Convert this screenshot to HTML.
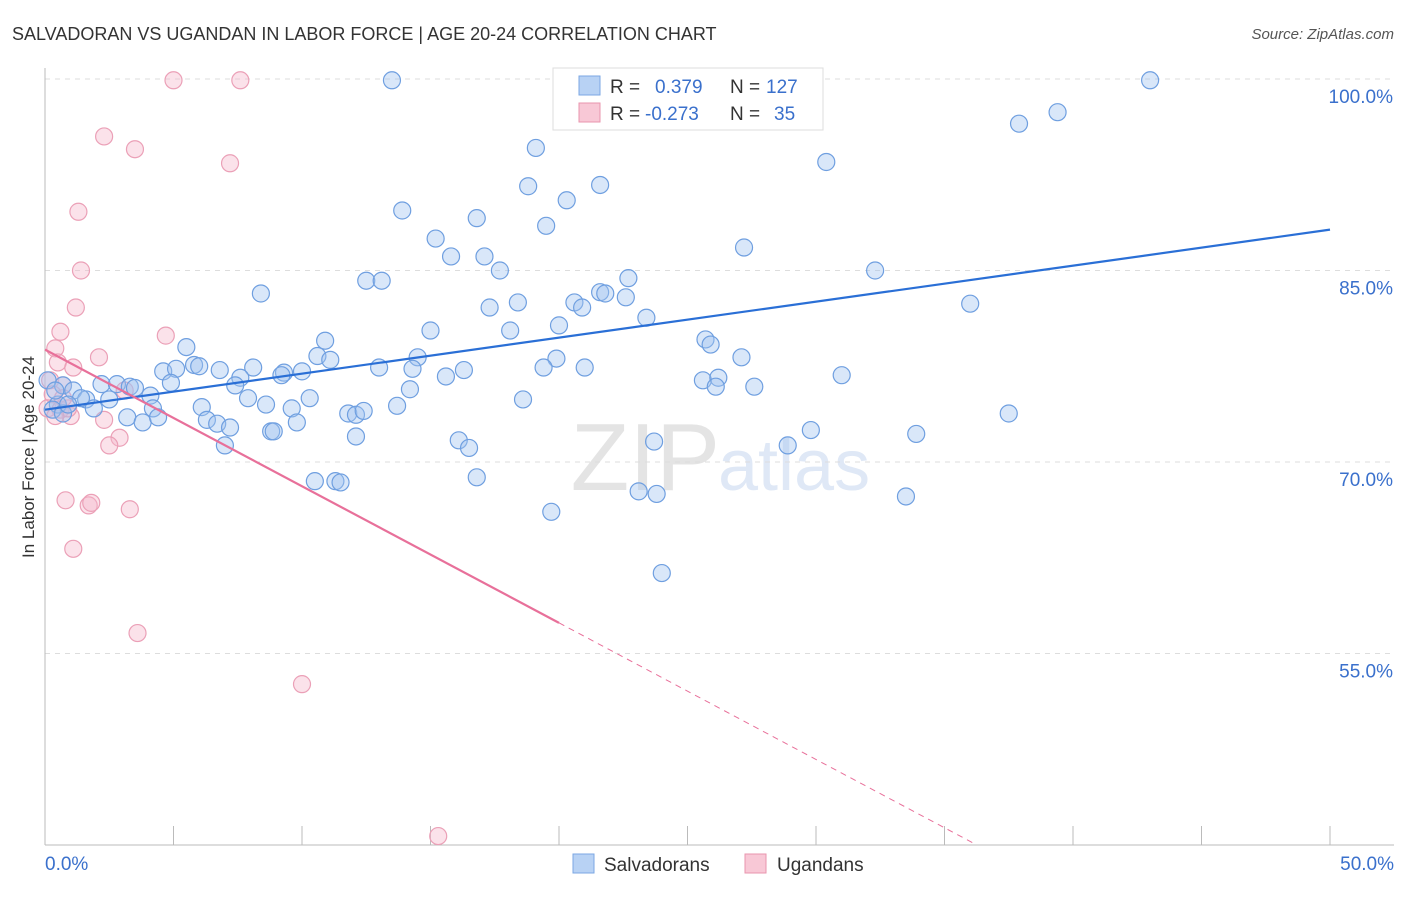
<!DOCTYPE html>
<html><head><meta charset="utf-8"><style>
body{margin:0;background:#fff;font-family:"Liberation Sans",sans-serif;}
svg text{font-family:"Liberation Sans",sans-serif;}
</style></head><body>
<svg id="chart" width="1406" height="892" xmlns="http://www.w3.org/2000/svg">
<text x="12" y="40" font-size="18" fill="#333">SALVADORAN VS UGANDAN IN LABOR FORCE | AGE 20-24 CORRELATION CHART</text>
<text x="1394" y="39" font-size="15" fill="#555" font-style="italic" text-anchor="end">Source: ZipAtlas.com</text>
<text x="720" y="490" font-size="96" fill="#e4e4e4" text-anchor="end" font-family="Liberation Serif">ZIP</text>
<text x="718" y="490" font-size="72" fill="#dfe8f6">atlas</text>
<g id="grid"></g>
<g id="axes"></g>
<g id="pink"></g>
<g id="blue"></g>
<g id="trends"></g>
<text transform="translate(34,457) rotate(-90)" font-size="17" fill="#333" text-anchor="middle">In Labor Force | Age 20-24</text>
<g>
<rect x="553" y="68" width="270" height="62" fill="#fff" stroke="#ddd"/>
<rect x="579" y="76" width="21" height="19" fill="#b8d2f4" stroke="#7ba7e3"/>
<rect x="579" y="103" width="21" height="19" fill="#f8c8d6" stroke="#e995ae"/>
<text x="610" y="93" font-size="19" fill="#333">R = </text><text x="655" y="93" font-size="19" fill="#3a70cc">0.379</text>
<text x="730" y="93" font-size="19" fill="#333">N = </text><text x="766" y="93" font-size="19" fill="#3a70cc">127</text>
<text x="610" y="120" font-size="19" fill="#333">R = </text><text x="645" y="120" font-size="19" fill="#3a70cc">-0.273</text>
<text x="730" y="120" font-size="19" fill="#333">N = </text><text x="774" y="120" font-size="19" fill="#3a70cc">35</text>
</g>
<g>
<rect x="573" y="854" width="21" height="19" fill="#b8d2f4" stroke="#7ba7e3"/>
<text x="604" y="871" font-size="19" fill="#333">Salvadorans</text>
<rect x="745" y="854" width="21" height="19" fill="#f8c8d6" stroke="#e995ae"/>
<text x="777" y="871" font-size="19" fill="#333">Ugandans</text>
</g>
</svg>
<script>
const yTicks=[100,85,70,55];
const yTickLabels=["100.0%","85.0%","70.0%","55.0%"];
const xTicks=[0,5,10,15,20,25,30,35,40,45,50];
const xEndLabels=["0.0%","50.0%"];
const blueX=[13.5,43.0,39.4,37.9,19.1,30.4,18.8,21.6,20.3,13.9,16.8,19.5,15.2,27.2,15.8,17.1,17.7,32.3,22.7,12.5,13.1,8.4,21.6,21.8,20.6,22.6,20.9,18.4,17.3,36.0,23.4,20.0,15.0,18.1,10.9,25.7,25.9,5.5,10.6,11.1,14.5,19.9,27.1,5.8,13.0,14.3,4.6,5.1,6.0,6.8,8.1,9.3,10.0,9.2,21.0,19.4,16.3,15.6,31.0,7.6,4.9,7.4,25.6,26.2,26.1,27.6,14.2,2.2,2.8,3.3,3.5,0.7,1.1,4.1,7.9,8.6,10.3,9.6,11.8,12.1,12.4,13.7,18.6,6.1,2.5,1.6,1.4,0.5,1.9,4.2,6.3,6.7,7.2,3.2,3.8,4.4,9.8,37.5,8.8,8.9,12.1,16.1,16.5,7.0,23.7,28.9,29.8,33.9,16.8,10.5,11.3,11.5,23.1,23.8,33.5,19.7,24.0,0.1,0.3,0.7,0.9,0.4];
const blueY=[99.9,99.9,97.4,96.5,94.6,93.5,91.6,91.7,90.5,89.7,89.1,88.5,87.5,86.8,86.1,86.1,85.0,85.0,84.4,84.2,84.2,83.2,83.3,83.2,82.5,82.9,82.1,82.5,82.1,82.4,81.3,80.7,80.3,80.3,79.5,79.6,79.2,79.0,78.3,78.0,78.2,78.1,78.2,77.6,77.4,77.3,77.1,77.3,77.5,77.2,77.4,77.0,77.1,76.8,77.4,77.4,77.2,76.7,76.8,76.6,76.2,76.0,76.4,76.6,75.9,75.9,75.7,76.1,76.1,75.9,75.8,76.0,75.6,75.2,75.0,74.5,75.0,74.2,73.8,73.7,74.0,74.4,74.9,74.3,74.9,74.9,75.0,74.5,74.2,74.2,73.3,73.0,72.7,73.5,73.1,73.5,73.1,73.8,72.4,72.4,72.0,71.7,71.1,71.3,71.6,71.3,72.5,72.2,68.8,68.5,68.5,68.4,67.7,67.5,67.3,66.1,61.3,76.4,74.1,73.8,74.5,75.6];
const pinkX=[5.0,7.6,2.3,3.5,7.2,1.3,1.4,1.2,0.6,4.7,0.4,2.1,0.5,1.1,0.2,0.7,3.1,0.3,0.1,0.6,1.0,0.9,2.3,2.9,2.5,0.8,1.7,1.8,3.3,1.1,3.6,10.0,15.3,0.4,0.7];
const pinkY=[99.9,99.9,95.5,94.5,93.4,89.6,85.0,82.1,80.2,79.9,78.9,78.2,77.8,77.4,76.4,76.0,75.6,75.3,74.2,74.1,73.6,74.2,73.3,71.9,71.3,67.0,66.6,66.8,66.3,63.2,56.6,52.6,40.7,73.6,75.0];
const blueTrend=[74.1,88.2];   // value at x=0, x=50
const pinkTrend=[78.8,-1.07];  // intercept, slope per %
const pinkSolidEnd=20.0;
const pinkDashEnd=36.2;

const NS="http://www.w3.org/2000/svg";
const X0=45,X1=1330,YTOP=79,YSPAN=191.5/15;
const xs=v=>X0+(v/50)*(X1-X0);
const ys=v=>YTOP+(100-v)*YSPAN;
function mk(tag,attrs,parent){const e=document.createElementNS(NS,tag);for(const k in attrs)e.setAttribute(k,attrs[k]);document.getElementById(parent).appendChild(e);return e;}

yTicks.forEach((t,i)=>{
  const l=mk('line',{x1:X0,x2:1394,y1:ys(t),y2:ys(t),stroke:'#ddd','stroke-dasharray':'5,5'},'grid');
  
  
  const tx=mk('text',{x:1393,y:ys(t)+24,'font-size':19,fill:'#3a70cc','text-anchor':'end'},'grid');
  tx.textContent=yTickLabels[i];
  
  
});
let a=mk('line',{x1:X0,x2:X0,y1:68,y2:845,stroke:'#bbb'},'axes');


a=mk('line',{x1:X0,x2:1394,y1:845,y2:845,stroke:'#bbb'},'axes');


xTicks.forEach(t=>{
  const l=mk('line',{x1:xs(t),x2:xs(t),y1:826,y2:845,stroke:'#bbb'},'axes');
  
  
});
let t1=mk('text',{x:X0,y:870,'font-size':19,fill:'#3a70cc'},'axes');t1.textContent=xEndLabels[0];


let t2=mk('text',{x:1394,y:870,'font-size':19,fill:'#3a70cc','text-anchor':'end'},'axes');t2.textContent=xEndLabels[1];



pinkX.forEach((x,i)=>{
  const c=mk('circle',{cx:xs(x),cy:ys(pinkY[i]),r:8.5,fill:'rgba(246,182,202,0.4)',stroke:'#eba0b7','stroke-width':1.2},'pink');
  
  
});
blueX.forEach((x,i)=>{
  const c=mk('circle',{cx:xs(x),cy:ys(blueY[i]),r:8.5,fill:'rgba(160,196,240,0.4)',stroke:'#6f9fe0','stroke-width':1.2},'blue');
  
  
});
let bl=mk('line',{x1:xs(0),y1:ys(blueTrend[0]),x2:xs(50),y2:ys(blueTrend[1]),stroke:'#2a6fd6','stroke-width':2.2},'trends');


const pv=x=>pinkTrend[0]+pinkTrend[1]*x;
let pl=mk('line',{x1:xs(0),y1:ys(pv(0)),x2:xs(pinkSolidEnd),y2:ys(pv(pinkSolidEnd)),stroke:'#e8709a','stroke-width':2.2},'trends');


let pd=mk('line',{x1:xs(pinkSolidEnd),y1:ys(pv(pinkSolidEnd)),x2:xs(pinkDashEnd),y2:ys(pv(pinkDashEnd)),stroke:'#e8709a','stroke-width':1,'stroke-dasharray':'6,5'},'trends');


</script>
</body></html>
